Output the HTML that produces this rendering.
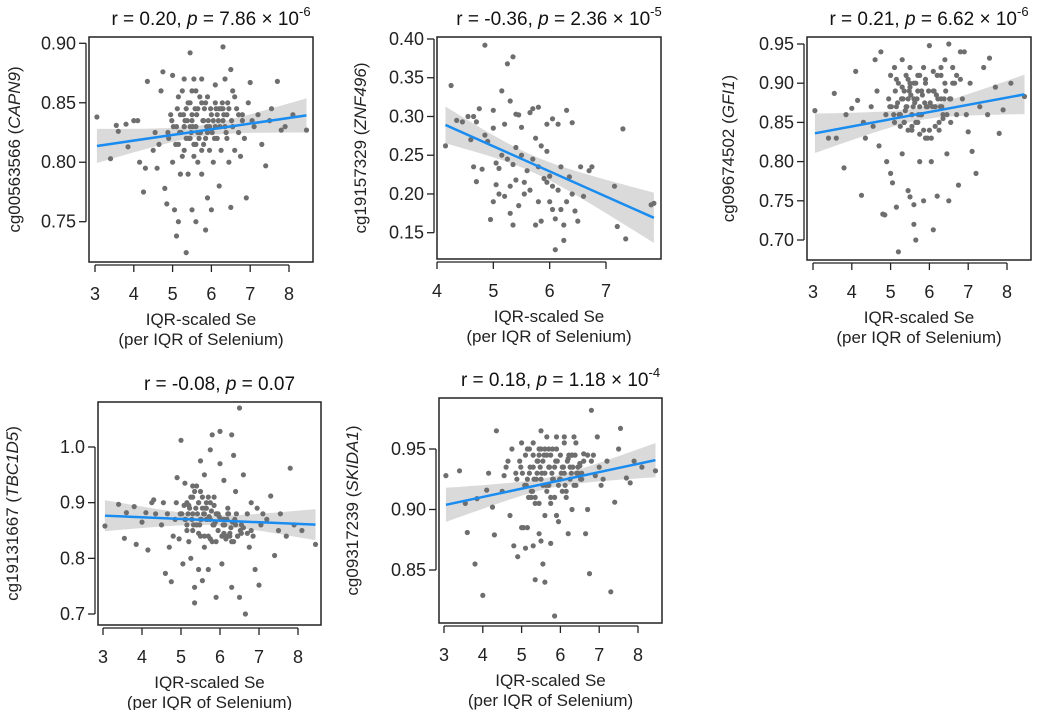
<!DOCTYPE html>
<html><head><meta charset="utf-8"><style>
html,body{margin:0;padding:0;background:#fff;}
svg{display:block;font-family:"Liberation Sans",Arial,sans-serif;}
</style></head><body>
<svg id="chart" width="1050" height="710" viewBox="0 0 1050 710"></svg>
<script>
// shared Se values for panels 1,3,4,5
const seX = [3.05,3.4,3.55,3.6,3.8,3.85,4.0,4.1,4.15,4.25,
4.3,4.35,4.5,4.55,4.6,4.7,4.75,4.8,4.85,4.9,
4.95,5.0,5.0,5.05,5.1,5.1,5.15,5.15,5.2,5.2,
5.25,5.3,5.3,5.3,5.35,5.35,5.4,5.4,5.45,5.45,
5.5,5.5,5.5,5.55,5.55,5.6,5.6,5.6,5.65,5.65,
5.7,5.7,5.75,5.75,5.8,5.8,5.85,5.85,5.9,5.9,
5.95,6.0,6.0,6.05,6.1,6.1,6.15,6.2,6.2,6.25,
6.3,6.3,6.35,6.4,6.4,6.45,6.5,6.5,6.55,6.6,
6.65,6.7,6.75,6.8,6.85,6.9,6.95,7.0,7.05,7.1,
7.2,7.3,7.4,7.5,7.55,7.7,7.8,7.9,8.1,8.45,
5.02,5.12,5.22,5.32,5.42,5.52,5.62,5.72,5.82,5.92,
6.02,6.12,6.22,6.32,6.42,6.52,5.08,5.18,5.28,5.38,
5.48,5.58,5.68,5.78,5.88,5.98,6.08,6.18,6.28,6.38,
4.88,4.98,5.25,5.35,5.45,5.55,5.65,5.75,5.85,5.95,
6.05,6.15,6.25,6.35,6.45,6.55,6.6,6.7,6.8,4.65,
5.15,5.45,5.6,5.75,5.9,6.1,6.3,5.3,5.5,5.7];
const capn9Y = [.838,.803,.831,.826,.832,.813,.835,.835,.800,.775,
.795,.868,.810,.825,.795,.860,.876,.778,.765,.820,
.840,.873,.800,.760,.738,.830,.750,.815,.790,.840,
.860,.870,.810,.830,.724,.845,.850,.790,.892,.820,
.760,.840,.860,.870,.805,.750,.830,.815,.845,.800,
.825,.855,.870,.790,.835,.815,.743,.850,.770,.825,
.810,.760,.840,.800,.830,.865,.840,.780,.845,.810,
.897,.835,.870,.820,.840,.800,.878,.762,.860,.810,
.845,.825,.805,.840,.820,.770,.850,.867,.835,.830,
.840,.815,.797,.835,.845,.868,.827,.830,.840,.827,
.830,.845,.825,.835,.820,.830,.840,.825,.845,.835,
.825,.845,.830,.840,.850,.835,.815,.825,.840,.835,
.825,.845,.820,.835,.830,.845,.820,.835,.850,.825,
.825,.835,.805,.820,.830,.815,.825,.810,.820,.830,
.835,.820,.845,.830,.845,.830,.855,.840,.835,.815,
.855,.850,.860,.850,.855,.850,.845,.830,.835,.825];
const gfi1Y = [.865,.830,.887,.830,.792,.860,.868,.915,.878,.757,
.850,.830,.870,.845,.930,.820,.940,.733,.732,.800,
.880,.910,.785,.773,.850,.920,.742,.870,.685,.900,
.860,.930,.880,.810,.890,.850,.910,.870,.880,.763,
.755,.900,.920,.840,.860,.720,.880,.745,.900,.700,
.850,.910,.870,.800,.890,.860,.750,.920,.830,.900,
.870,.948,.840,.800,.890,.713,.870,.910,.756,.840,
.880,.910,.860,.930,.900,.810,.750,.950,.880,.920,
.900,.860,.770,.940,.880,.940,.860,.838,.900,.813,
.785,.870,.920,.860,.932,.895,.836,.866,.900,.883,
.870,.890,.860,.880,.870,.885,.875,.860,.885,.870,
.875,.890,.880,.870,.890,.880,.860,.875,.880,.865,
.890,.870,.880,.860,.875,.890,.870,.885,.870,.880,
.860,.870,.845,.850,.840,.845,.850,.835,.840,.830,
.830,.845,.850,.855,.860,.850,.900,.910,.905,.890,
.905,.905,.900,.910,.905,.915,.920,.895,.895,.890];
const tbc1d5Y = [.858,.897,.836,.882,.893,.825,.865,.882,.815,.900,
.905,.880,.860,.900,.773,.820,.758,.840,.870,.945,
.835,1.012,.880,.790,.935,.870,.900,.860,.830,.895,
.800,.910,.850,.880,.748,.720,.930,.860,.900,.780,
.870,.975,.840,.890,.760,.880,.950,.820,.870,.900,
.780,.840,.995,.870,1.022,.830,.910,.860,.730,.880,
.850,1.028,.970,.790,.870,.940,.840,.890,.880,.840,
1.022,.748,.985,.860,.920,.840,1.070,.730,.860,.950,
.700,.880,.820,.900,.840,.780,.890,.752,.860,.880,
.870,.912,.805,.850,.880,.840,.962,.860,.850,.825,
.880,.870,.890,.860,.880,.870,.890,.875,.860,.880,
.870,.860,.880,.865,.880,.850,.895,.880,.870,.890,
.860,.880,.870,.885,.865,.875,.860,.870,.855,.870,
.900,.880,.910,.920,.900,.910,.890,.900,.895,.880,
.840,.835,.845,.830,.840,.845,.855,.845,.850,.880,
.850,.845,.840,.835,.830,.845,.830,.930,.920,.910];
const skida1Y = [.928,.932,.905,.881,.855,.909,.829,.916,.930,.902,
.879,.965,.915,.928,.935,.895,.950,.870,.930,.861,
.940,.885,.955,.885,.945,.868,.925,.885,.930,.950,
.910,.945,.935,.870,.842,.905,.930,.940,.880,.950,
.874,.925,.965,.855,.940,.895,.930,.840,.960,.945,
.920,.935,.910,.872,.950,.925,.812,.935,.895,.960,
.890,.945,.925,.935,.930,.960,.915,.942,.880,.935,
.945,.900,.960,.955,.920,.930,.936,.938,.925,.946,
.880,.900,.847,.982,.945,.928,.960,.935,.920,.925,
.940,.832,.906,.950,.967,.926,.922,.940,.935,.932,
.930,.920,.935,.925,.940,.930,.920,.935,.925,.940,
.930,.920,.945,.935,.930,.925,.920,.910,.915,.925,
.935,.945,.920,.930,.940,.925,.935,.940,.930,.945,
.925,.935,.915,.910,.905,.920,.915,.905,.910,.920,
.915,.910,.925,.920,.935,.930,.940,.945,.940,.940,
.950,.945,.950,.945,.950,.955,.945,.955,.950,.950];
const znfX = [4.15,4.25,4.35,4.45,4.55,4.6,4.65,4.65,4.7,4.7,4.75,4.8,4.85,4.85,4.9,4.95,5.0,5.0,5.0,5.05,5.05,5.1,5.1,5.15,5.15,5.2,5.2,5.25,5.25,5.3,5.3,5.35,5.35,5.35,5.4,5.4,5.4,5.45,5.45,5.5,5.5,5.55,5.6,5.65,5.65,5.7,5.7,5.75,5.75,5.8,5.8,5.8,5.85,5.85,5.9,5.95,5.95,6.0,6.0,6.05,6.05,6.1,6.1,6.15,6.15,6.2,6.2,6.25,6.25,6.3,6.3,6.35,6.4,6.4,6.45,6.5,6.55,6.6,6.7,6.75,7.15,7.2,7.3,7.35,7.8,7.85,5.55,5.95,6.05,5.3];
const znfY = [.262,.340,.295,.293,.300,.270,.235,.300,.216,.293,.310,.232,.392,.276,.268,.167,.308,.285,.190,.240,.212,.233,.200,.333,.250,.290,.197,.368,.245,.320,.210,.377,.238,.160,.303,.260,.218,.302,.185,.250,.286,.215,.230,.305,.205,.310,.245,.160,.272,.312,.235,.190,.165,.262,.220,.290,.255,.223,.190,.297,.210,.128,.168,.290,.205,.235,.180,.140,.160,.308,.190,.222,.292,.200,.178,.165,.235,.197,.230,.235,.210,.158,.284,.142,.186,.188,.200,.215,.180,.175];
const xTicks1 = [3,4,5,6,7,8];
const xTicks2 = [4,5,6,7];
const yTicksCapn9 = [0.75,0.80,0.85,0.90];
const yTicksZnf = [0.15,0.20,0.25,0.30,0.35,0.40];
const yTicksGfi1 = [0.70,0.75,0.80,0.85,0.90,0.95];
const yTicksTbc = [0.7,0.8,0.9,1.0];
const yTicksSkida = [0.85,0.90,0.95];

const panels = [
 {name:'capn9',box:[89,37,313,262],xa:[3,95,8,289],ya:[0.90,43.3,0.75,221.7],xs:seX,ys:capn9Y,xt:xTicks1,yt:yTicksCapn9,dec:2,
  r:'0.20',p:'7.86',exp:'-6',probe:'cg00563566',gene:'CAPN9',ytx:20},
 {name:'znf496',box:[437,37,661,259],xa:[4,437,7,606],ya:[0.40,39,0.15,232.7],xs:znfX,ys:znfY,xt:xTicks2,yt:yTicksZnf,dec:2,
  r:'-0.36',p:'2.36',exp:'-5',probe:'cg19157329',gene:'ZNF496',ytx:366},
 {name:'gfi1',box:[807,37,1031,260],xa:[3,813,8,1007],ya:[0.95,44,0.70,240],xs:seX,ys:gfi1Y,xt:xTicks1,yt:yTicksGfi1,dec:2,
  r:'0.21',p:'6.62',exp:'-6',probe:'cg09674502',gene:'GFI1',ytx:734},
 {name:'tbc1d5',box:[98,402,321,625],xa:[3,103,8,298],ya:[1.0,447,0.7,614],xs:seX,ys:tbc1d5Y,xt:xTicks1,yt:yTicksTbc,dec:1,
  r:'-0.08',p:'0.07',exp:null,probe:'cg19131667',gene:'TBC1D5',ytx:18},
 {name:'skida1',box:[439,398,662,623],xa:[3,444,8,638],ya:[0.95,449,0.85,570],xs:seX,ys:skida1Y,xt:xTicks1,yt:yTicksSkida,dec:2,
  r:'0.18',p:'1.18',exp:'-4',probe:'cg09317239',gene:'SKIDA1',ytx:358}
];
const NS='http://www.w3.org/2000/svg';
const svg=document.getElementById('chart');
function mk(tag,attrs,parent){const e=document.createElementNS(NS,tag);for(const k in attrs)e.setAttribute(k,attrs[k]);(parent||svg).appendChild(e);return e;}

panels.forEach(P=>{
  const g=mk('g',{});
  
  
  const [x0,y0,x1,y1]=P.box;
  const sx=v=>P.xa[1]+(v-P.xa[0])*(P.xa[3]-P.xa[1])/(P.xa[2]-P.xa[0]);
  const sy=v=>P.ya[1]+(v-P.ya[0])*(P.ya[3]-P.ya[1])/(P.ya[2]-P.ya[0]);
  const cp=mk('clipPath',{id:'clip-'+P.name},g);
  mk('rect',{x:x0,y:y0,width:x1-x0,height:y1-y0},cp);
  const plot=mk('g',{'clip-path':'url(#clip-'+P.name+')'},g);
  const n=P.xs.length;let mx=0,my=0;
  for(let i=0;i<n;i++){mx+=P.xs[i];my+=P.ys[i];}mx/=n;my/=n;
  let sxx=0,sxy=0;for(let i=0;i<n;i++){sxx+=(P.xs[i]-mx)**2;sxy+=(P.xs[i]-mx)*(P.ys[i]-my);}
  const b=sxy/sxx,a=my-b*mx;let sse=0;
  for(let i=0;i<n;i++){sse+=(P.ys[i]-a-b*P.xs[i])**2;}
  const s=Math.sqrt(sse/(n-2));
  const xmin=Math.min(...P.xs),xmax=Math.max(...P.xs);
  const up=[],lo=[];
  for(let k=0;k<=40;k++){const xv=xmin+(xmax-xmin)*k/40;const se=1.97*s*Math.sqrt(1/n+(xv-mx)**2/sxx);const yv=a+b*xv;
    up.push(sx(xv).toFixed(1)+','+sy(yv+se).toFixed(1));lo.unshift(sx(xv).toFixed(1)+','+sy(yv-se).toFixed(1));}
  const band=mk('polygon',{points:up.concat(lo).join(' '),fill:'#d4d4d4','fill-opacity':'0.85'},plot);
  
  
  P.xs.forEach((xv,i)=>{
    const c=mk('circle',{cx:sx(xv).toFixed(1),cy:sy(P.ys[i]).toFixed(1),r:2.6,fill:'#6e6e6e'},plot);
    
    
  });
  const ln=mk('line',{x1:sx(xmin),y1:sy(a+b*xmin),x2:sx(xmax),y2:sy(a+b*xmax),stroke:'#1a8cf0','stroke-width':2.5},plot);
  
  
  const fr=mk('rect',{x:x0,y:y0,width:x1-x0,height:y1-y0,fill:'none',stroke:'#222','stroke-width':1.5},g);
  
  
  const xt0=sx(P.xt[0]),xt1=sx(P.xt[P.xt.length-1]);
  mk('line',{x1:xt0,y1:y1+3,x2:xt1,y2:y1+3,stroke:'#222','stroke-width':1.3},g);
  P.xt.forEach(t=>{
    mk('line',{x1:sx(t),y1:y1+3,x2:sx(t),y2:y1+10,stroke:'#222','stroke-width':1.3},g);
    const tl=mk('text',{x:sx(t),y:y1+38,'text-anchor':'middle','font-size':18,fill:'#222'},g);
    tl.textContent=t;
    
    
  });
  const yv0=P.yt[0],yv1=P.yt[P.yt.length-1];
  mk('line',{x1:x0-3,y1:sy(yv0),x2:x0-3,y2:sy(yv1),stroke:'#222','stroke-width':1.3},g);
  P.yt.forEach(t=>{
    mk('line',{x1:x0-3,y1:sy(t),x2:x0-10,y2:sy(t),stroke:'#222','stroke-width':1.3},g);
    const tl=mk('text',{x:x0-13,y:sy(t)+6,'text-anchor':'end','font-size':18,fill:'#222'},g);
    tl.textContent=t.toFixed(P.dec);
    
    
  });
  const xt=mk('text',{x:(x0+x1)/2,y:y1+63,'text-anchor':'middle','font-size':17,fill:'#222'},g);
  xt.textContent='IQR-scaled Se';
  
  
  const xt2=mk('text',{x:(x0+x1)/2,y:y1+83,'text-anchor':'middle','font-size':17,fill:'#222'},g);
  xt2.textContent='(per IQR of Selenium)';
  
  
  const cy=(y0+y1)/2;
  const yt=mk('text',{x:P.ytx,y:cy,'text-anchor':'middle','font-size':17,fill:'#222',transform:'rotate(-90 '+P.ytx+' '+cy+')'},g);
  
  
  const t1=mk('tspan',{},yt);t1.textContent=P.probe+' (';
  const t2=mk('tspan',{'font-style':'italic'},yt);t2.textContent=P.gene;
  const t3=mk('tspan',{},yt);t3.textContent=')';
  const tt=mk('text',{x:(x0+x1)/2+10,y:y0-12,'text-anchor':'middle','font-size':19,fill:'#111'},g);
  
  
  const a1=mk('tspan',{},tt);a1.textContent='r = '+P.r+', ';
  const a2=mk('tspan',{'font-style':'italic'},tt);a2.textContent='p';
  const a3=mk('tspan',{},tt);a3.textContent=' = '+P.p+(P.exp?' × 10':'');
  if(P.exp){const a4=mk('tspan',{dy:-9,'font-size':13},tt);a4.textContent=P.exp;}
});
</script>
</body></html>
